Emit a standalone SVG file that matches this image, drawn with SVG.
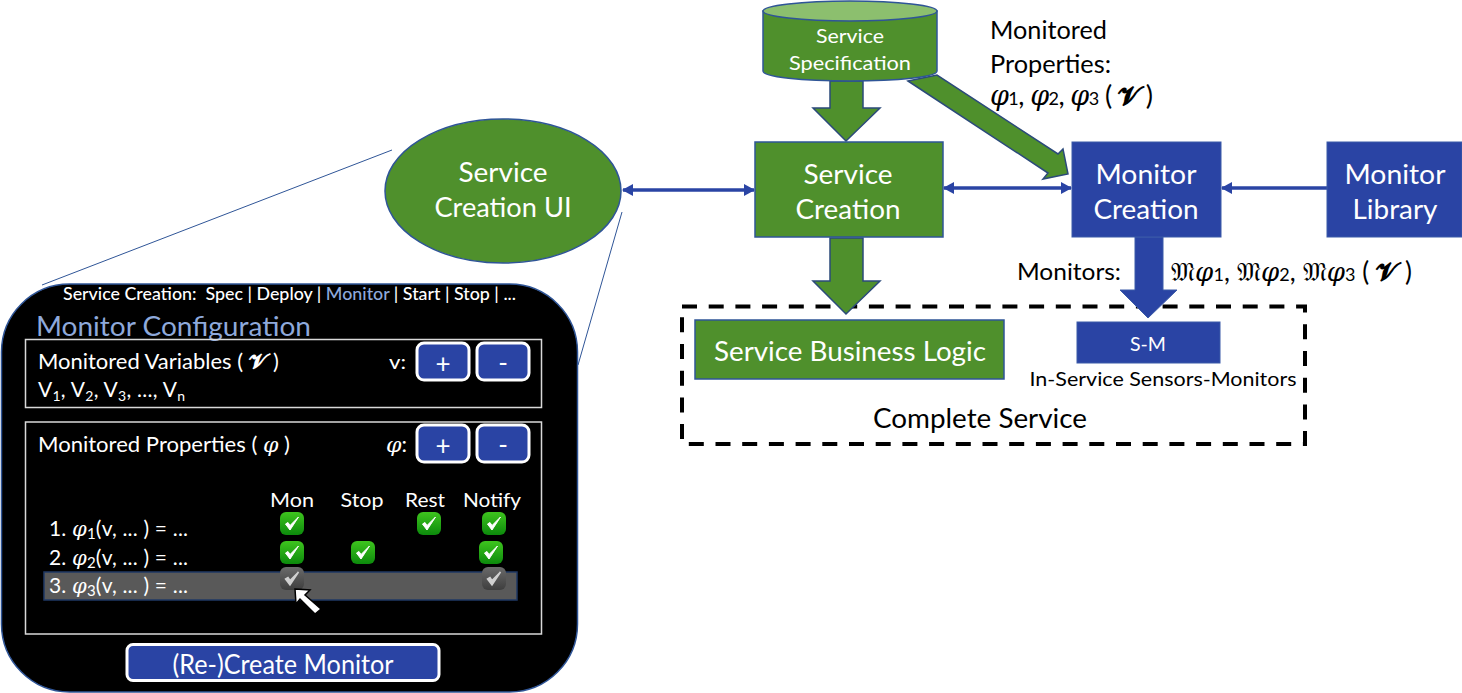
<svg xmlns="http://www.w3.org/2000/svg" width="1462" height="693" viewBox="0 0 1462 693">
<style>
text{font-family:"Lato","Noto Sans",sans-serif;fill:#000}
.w{fill:#fff}
.c{text-anchor:middle}
.m{font-family:"DejaVu Serif","Liberation Serif",serif;font-style:italic}
.v{font-family:"DejaVu Serif","Liberation Serif",serif;font-weight:700}
.f{font-family:"DejaVu Serif","DejaVu Sans",serif}
.tw tspan{fill:#fff}
.g{fill:#4f902c;stroke:#2f5597;stroke-width:1.500}
.ga{fill:#4f902c;stroke:#2b4a7a;stroke-width:1.500}
.b{fill:#2a44a4;stroke:#3a5aa8;stroke-width:1}
.in{fill:none;stroke:#d9d9d9;stroke-width:1.500}
.btn{fill:#2a44a4;stroke:#fff;stroke-width:3}
.thin{stroke:#2a44a4;stroke-width:3.500;fill:none}
.lead{stroke:#2f5597;stroke-width:1;fill:none}
</style>
<defs>
<marker id="ah" markerUnits="userSpaceOnUse" markerWidth="12" markerHeight="14" refX="10" refY="7" orient="auto-start-reverse"><path d="M0 1L11 7L0 13z" fill="#2a44a4"/></marker>
<linearGradient id="gr" x1="0" y1="0" x2="0" y2="1"><stop offset="0" stop-color="#3ec41e"/><stop offset="1" stop-color="#0c8a0c"/></linearGradient>
<linearGradient id="gy" x1="0" y1="0" x2="0" y2="1"><stop offset="0" stop-color="#6a6a6a"/><stop offset="1" stop-color="#3e3e3e"/></linearGradient>
<g id="ck"><rect width="24" height="23" rx="6" fill="url(#gr)"/><path d="M5.500 12L10 18L18.500 5L10 13.500L8 10.500z" fill="#fff" stroke="#fff" stroke-width="1"/></g>
<g id="ckg"><rect width="24" height="23" rx="6" fill="url(#gy)"/><path d="M5.500 12L10 18L18.500 5L10 13.500L8 10.500z" fill="#d0d0d0" stroke="#d0d0d0" stroke-width="1.500"/></g>
</defs>
<g id="complete-service">
<rect x="682" y="306.500" width="623" height="137.500" fill="none" stroke="#000" stroke-width="4" stroke-dasharray="15 11.700"/>
<text class="c" x="980" y="428" font-size="27" textLength="214" lengthAdjust="spacingAndGlyphs">Complete Service</text>
</g>
<g id="connectors">
<line class="lead" x1="392" y1="150" x2="42" y2="285"/>
<line class="lead" x1="622" y1="212" x2="578" y2="365"/>
<line class="thin" x1="623" y1="190" x2="754" y2="190" marker-start="url(#ah)" marker-end="url(#ah)"/>
<line class="thin" x1="944" y1="188" x2="1071" y2="188" marker-start="url(#ah)" marker-end="url(#ah)"/>
<line class="thin" x1="1222" y1="188" x2="1327" y2="188" marker-start="url(#ah)"/>
<path class="ga" d="M830 81V108H813L846 141L880 108H863V81z"/>
<path class="ga" d="M908 81L937 75L1058 154L1063 149L1068 174L1043 179L1048 173z"/>
<path class="ga" d="M830 238V281H813L846 314L880 281H863V238z"/>
<path class="b" d="M1135 237V290H1120L1148 318L1177 290H1163V237z"/>
</g>
<g id="service-specification">
<path class="g" d="M763 11V71C763 77 802 81 850 81C898 81 937 77 937 71V11z"/>
<ellipse cx="850" cy="11" rx="87" ry="10" fill="#8cbf6e" stroke="#2f5597" stroke-width="1.500"/>
<text class="c w" x="850" y="43" font-size="20" textLength="68" lengthAdjust="spacingAndGlyphs">Service</text>
<text class="c w" x="850" y="70" font-size="20" textLength="122" lengthAdjust="spacingAndGlyphs">Specification</text>
</g>
<g id="monitored-properties-label">
<text x="990" y="39" font-size="25" textLength="117" lengthAdjust="spacingAndGlyphs">Monitored</text>
<text x="990" y="73" font-size="25" textLength="121" lengthAdjust="spacingAndGlyphs">Properties:</text>
<text x="990" y="105" font-size="27" textLength="163" lengthAdjust="spacing"><tspan class="m">φ</tspan><tspan font-size="18">1</tspan>, <tspan class="m">φ</tspan><tspan font-size="18">2</tspan>, <tspan class="m">φ</tspan><tspan font-size="18">3</tspan> ( <tspan class="v">𝓥</tspan> )</text>
</g>
<g id="service-creation-ui">
<ellipse cx="503" cy="191" rx="118" ry="72" class="g"/>
<text class="c w" x="503" y="182" font-size="27" textLength="89" lengthAdjust="spacingAndGlyphs">Service</text>
<text class="c w" x="503" y="217" font-size="27" textLength="137" lengthAdjust="spacingAndGlyphs">Creation UI</text>
</g>
<g id="service-creation">
<rect class="g" x="755" y="142" width="188" height="95"/>
<text class="c w" x="848" y="184" font-size="27" textLength="89" lengthAdjust="spacingAndGlyphs">Service</text>
<text class="c w" x="848" y="219" font-size="27" textLength="105" lengthAdjust="spacingAndGlyphs">Creation</text>
</g>
<g id="monitor-creation">
<rect class="b" x="1072" y="142" width="149" height="95"/>
<text class="c w" x="1146" y="184" font-size="27" textLength="101" lengthAdjust="spacingAndGlyphs">Monitor</text>
<text class="c w" x="1146" y="219" font-size="27" textLength="105" lengthAdjust="spacingAndGlyphs">Creation</text>
</g>
<g id="monitor-library">
<rect class="b" x="1327" y="142" width="135" height="95"/>
<text class="c w" x="1395" y="184" font-size="27" textLength="101" lengthAdjust="spacingAndGlyphs">Monitor</text>
<text class="c w" x="1395" y="219" font-size="27" textLength="85" lengthAdjust="spacingAndGlyphs">Library</text>
</g>
<g id="monitors-label">
<text x="1017" y="280" font-size="24" textLength="104" lengthAdjust="spacingAndGlyphs">Monitors:</text>
<text x="1171" y="281" font-size="26" textLength="241" lengthAdjust="spacing"><tspan class="f">𝔐</tspan><tspan class="m">φ</tspan><tspan font-size="18">1</tspan>, <tspan class="f">𝔐</tspan><tspan class="m">φ</tspan><tspan font-size="18">2</tspan>, <tspan class="f">𝔐</tspan><tspan class="m">φ</tspan><tspan font-size="18">3</tspan> ( <tspan class="v">𝓥</tspan> )</text>
</g>
<g id="service-business-logic">
<rect class="g" x="695" y="320" width="309" height="59"/>
<text class="c w" x="850" y="361" font-size="27" textLength="272" lengthAdjust="spacingAndGlyphs">Service Business Logic</text>
</g>
<g id="sensors-monitors">
<rect class="b" x="1077" y="322" width="143" height="41"/>
<text class="c w" x="1148" y="351" font-size="20" textLength="36" lengthAdjust="spacingAndGlyphs">S-M</text>
<text class="c" x="1163" y="386" font-size="20" textLength="267" lengthAdjust="spacingAndGlyphs">In-Service Sensors-Monitors</text>
</g>
<g id="monitor-panel">
<rect x="1.500" y="284" width="576" height="408" rx="68" fill="#000" stroke="#2f5597" stroke-width="1.500"/>
<text class="w" x="63" y="300" font-size="17" font-weight="500" xml:space="preserve" textLength="453" lengthAdjust="spacingAndGlyphs">Service Creation:  Spec | Deploy | <tspan style="fill:#8ea9db">Monitor</tspan> | Start | Stop | ...</text>
<text x="36" y="336" font-size="27" style="fill:#8ea9db" textLength="275" lengthAdjust="spacingAndGlyphs">Monitor Configuration</text>
<rect class="in" x="25.500" y="339.500" width="516" height="68"/>
<text class="w tw" x="38" y="369" font-size="21" textLength="241" lengthAdjust="spacingAndGlyphs">Monitored Variables ( <tspan class="v">𝓥</tspan> )</text>
<text class="w" x="38" y="397" font-size="21" textLength="147" lengthAdjust="spacing">V<tspan font-size="14" dy="4">1</tspan><tspan dy="-4">, V</tspan><tspan font-size="14" dy="4">2</tspan><tspan dy="-4">, V</tspan><tspan font-size="14" dy="4">3</tspan><tspan dy="-4">, ..., V</tspan><tspan font-size="14" dy="4">n</tspan></text>
<text class="w" x="389" y="369" font-size="20" textLength="17" lengthAdjust="spacingAndGlyphs">v:</text>
<rect class="btn" x="417" y="343" width="52" height="37" rx="7"/>
<text class="c w" x="443" y="373" font-size="26">+</text>
<rect class="btn" x="477" y="343" width="52" height="37" rx="7"/>
<text class="c w" x="503" y="372" font-size="26">-</text>
<rect class="in" x="25.500" y="422" width="516" height="212"/>
<text class="w tw" x="38" y="452" font-size="21" textLength="252" lengthAdjust="spacingAndGlyphs">Monitored Properties ( <tspan class="m">φ</tspan> )</text>
<text class="w tw" x="386" y="452" font-size="21" textLength="21" lengthAdjust="spacingAndGlyphs"><tspan class="m">φ</tspan>:</text>
<rect class="btn" x="417" y="425" width="52" height="37" rx="7"/>
<text class="c w" x="443" y="455" font-size="26">+</text>
<rect class="btn" x="477" y="425" width="52" height="37" rx="7"/>
<text class="c w" x="503" y="454" font-size="26">-</text>
<text class="c w" x="292" y="507" font-size="20" textLength="44" lengthAdjust="spacingAndGlyphs">Mon</text>
<text class="c w" x="362" y="507" font-size="20" textLength="43" lengthAdjust="spacingAndGlyphs">Stop</text>
<text class="c w" x="425" y="507" font-size="20" textLength="40" lengthAdjust="spacingAndGlyphs">Rest</text>
<text class="c w" x="492" y="507" font-size="20" textLength="58" lengthAdjust="spacingAndGlyphs">Notify</text>
<rect x="44" y="572" width="473" height="28" fill="#595959" stroke="#1f3864" stroke-width="1.500"/>
<text class="w tw" x="49" y="536" font-size="21" textLength="139" lengthAdjust="spacing">1. <tspan class="m">φ</tspan><tspan font-size="15" dy="3">1</tspan><tspan dy="-3">(v, ... ) = ...</tspan></text>
<text class="w tw" x="49" y="565" font-size="21" textLength="139" lengthAdjust="spacing">2. <tspan class="m">φ</tspan><tspan font-size="15" dy="3">2</tspan><tspan dy="-3">(v, ... ) = ...</tspan></text>
<text class="w tw" x="49" y="593" font-size="21" textLength="139" lengthAdjust="spacing">3. <tspan class="m">φ</tspan><tspan font-size="15" dy="3">3</tspan><tspan dy="-3">(v, ... ) = ...</tspan></text>
<use href="#ck" x="280" y="512"/><use href="#ck" x="417" y="512"/><use href="#ck" x="482" y="512"/>
<use href="#ck" x="280" y="541"/><use href="#ck" x="351" y="541"/><use href="#ck" x="479" y="541"/>
<use href="#ckg" x="280" y="567"/><use href="#ckg" x="482" y="567"/>
<path d="M295 589L310 590L305 595L321 609L315 614L300 599L296 604z" fill="#fff" stroke="#000" stroke-width="1.500"/>
<rect class="btn" x="127" y="644.500" width="312" height="36" rx="6"/>
<text class="c w" x="283" y="674" font-size="27" textLength="221" lengthAdjust="spacingAndGlyphs">(Re-)Create Monitor</text>
</g>
</svg>
